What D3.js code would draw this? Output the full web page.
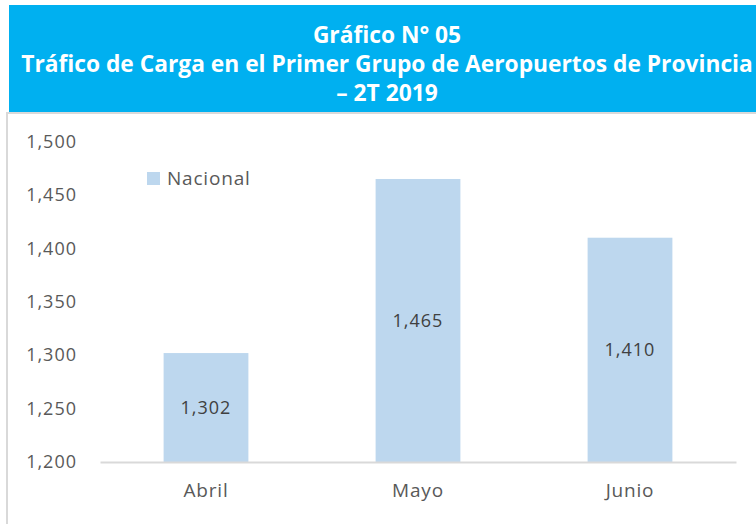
<!DOCTYPE html>
<head>
    <meta charset='utf-8'>
    <title>Gráfico N° 05</title>
    <script src='https://d3js.org/d3.v7.min.js'></script>
    <style>
        html, body {
            margin: 0px;
            padding: 0px;
            background: white;
        }
        svg {
            display: block;
        }
        text {
            font-family: 'Open Sans', sans-serif;
        }
    </style>
</head>
<body>
    <div id='chart'></div>
    <script>
        var titleLines = ['Gráfico N° 05', 'Tráfico de Carga en el Primer Grupo de Aeropuertos de Provincia', '– 2T 2019'];
        var months = ['Abril', 'Mayo', 'Junio'];
        var nacional = [1302, 1465, 1410];
        var yTicks = [1200, 1250, 1300, 1350, 1400, 1450, 1500];
        var seriesName = 'Nacional';

        var width = 756, height = 524;
        var svg = d3.select('#chart').append('svg')
            .attr('width', width)
            .attr('height', height);

        // title banner
        svg.append('rect')
            .attr('x', 9).attr('y', 5)
            .attr('width', width).attr('height', 107)
            .attr('fill', '#00B0F0');

        svg.selectAll('.title')
            .data(titleLines)
            .enter().append('text')
            .attr('class', 'title')
            .attr('x', 387)
            .attr('y', function(d, i) { return 43 + i * 29; })
            .attr('text-anchor', 'middle')
            .attr('fill', 'white')
            .attr('font-weight', 'bold')
            .attr('font-size', 20)
            .text(function(d) { return d; });

        // fit the long line to the banner width
        svg.selectAll('.title').each(function(d, i) {
            if (i == 1) {
                var w = this.getComputedTextLength();
                var s = 20 * 732 / w;
                svg.selectAll('.title').attr('font-size', s);
            }
        });

        // chart frame
        svg.append('path')
            .attr('d', 'M7,524V113H756')
            .attr('fill', 'none')
            .attr('stroke', '#D9D9D9')
            .attr('stroke-width', 2);

        var x = d3.scaleBand()
            .domain(months)
            .range([100, 736])
            .paddingInner(0.6)
            .paddingOuter(0.3);

        var y = d3.scaleLinear()
            .domain([1200, 1500])
            .range([462, 141.6]);

        // y tick labels
        var yAxis = svg.append('g')
            .attr('transform', 'translate(77,0)')
            .call(d3.axisLeft(y).tickValues(yTicks).tickSize(0).tickPadding(0).tickFormat(d3.format(',')));
        yAxis.select('.domain').remove();
        yAxis.selectAll('text')
            .attr('font-family', "'Open Sans', sans-serif")
            .attr('font-size', 18)
            .attr('letter-spacing', 1)
            .attr('fill', '#595959');

        // bars
        svg.selectAll('.bar')
            .data(nacional)
            .enter().append('rect')
            .attr('class', 'bar')
            .attr('x', function(d, i) { return x(months[i]); })
            .attr('y', function(d) { return y(d); })
            .attr('width', x.bandwidth())
            .attr('height', function(d) { return y(1200) - y(d); })
            .attr('fill', '#BDD7EE');

        // value labels
        svg.selectAll('.val')
            .data(nacional)
            .enter().append('text')
            .attr('class', 'val')
            .attr('x', function(d, i) { return x(months[i]) + x.bandwidth() / 2; })
            .attr('y', function(d) { return (y(d) + y(1200)) / 2; })
            .attr('dy', '0.35em')
            .attr('text-anchor', 'middle')
            .attr('font-size', 18)
            .attr('letter-spacing', 1)
            .attr('fill', '#404040')
            .text(function(d) { return d3.format(',')(d); });

        // x axis
        var xAxis = svg.append('g')
            .attr('transform', 'translate(0,462)')
            .call(d3.axisBottom(x).tickSize(0).tickPadding(22));
        xAxis.select('.domain')
            .attr('stroke', '#D9D9D9')
            .attr('stroke-width', 2);
        xAxis.selectAll('text')
            .attr('font-family', "'Open Sans', sans-serif")
            .attr('font-size', 19)
            .attr('letter-spacing', 0.8)
            .attr('fill', '#595959');

        // legend
        svg.append('rect')
            .attr('x', 147).attr('y', 172)
            .attr('width', 13).attr('height', 13)
            .attr('fill', '#BDD7EE');
        svg.append('text')
            .attr('x', 167).attr('y', 185)
            .attr('font-size', 19)
            .attr('letter-spacing', 0.8)
            .attr('fill', '#595959')
            .text(seriesName);
    </script>
</body>
